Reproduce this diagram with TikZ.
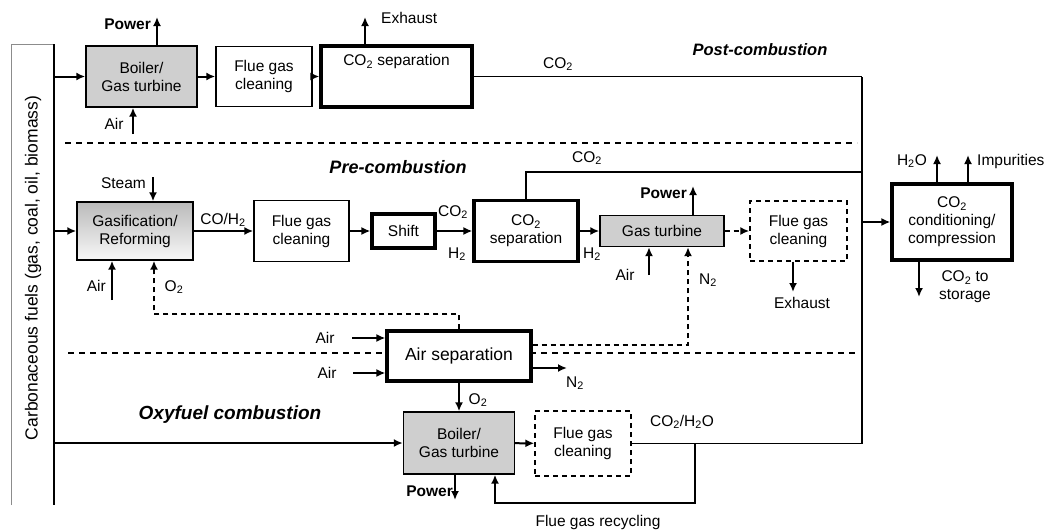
\documentclass[tikz,border=0pt]{standalone}
\usepackage{fontspec}
\setmainfont{Liberation Sans}
\usepackage{tikz}
\usetikzlibrary{arrows.meta,positioning}
\newcommand{\COtwo}{CO\textsubscript{2}}
\newcommand{\Htwo}{H\textsubscript{2}}

\begin{document}
\begin{tikzpicture}[x=1pt,y=-1pt]
	\tikzset{txt/.style={font=\fontsize{15.5}{18}\selectfont,inner sep=1pt},
		box/.style={draw,line width=1.4pt,align=center,inner sep=0pt,font=\fontsize{15.5}{18}\selectfont},
		thickbox/.style={box,line width=3.2pt},
		graybox/.style={box,fill=black!19},
		dashbox/.style={box,dash pattern=on 5pt off 4pt},
		flow/.style={-{Latex[length=9pt,width=8pt]},line width=2pt},
		dashflow/.style={flow,dash pattern=on 5pt off 4pt},
		pipe/.style={line width=1.4pt},
		sepline/.style={line width=1.1pt,dash pattern=on 6pt off 5pt},
		head/.style={font=\fontsize{18}{21}\selectfont\bfseries\itshape}};
	\useasboundingbox (0,0) rectangle (1046,530);

	% fuel rail
	\draw[black!45,line width=0.9pt] (11,505) -- (11,44) -- (54,44);
	\draw[line width=1.4pt] (54,44) -- (54,505);
	\coordinate (rail) at (54,44);
	\node[txt,rotate=90,font=\fontsize{17.5}{20}\selectfont] (fuels) at (33,268) {Carbonaceous fuels (gas, coal, oil, biomass)};

	% post-combustion
	\node[graybox,minimum width=111pt,minimum height=61pt] (boilerA) at (141.5,76.5) {Boiler/\\Gas turbine};
	\node[box,minimum width=96pt,minimum height=60pt] (flueA) at (264,76.5) {Flue gas\\cleaning};
	\node[thickbox,minimum width=151pt,minimum height=61pt] (sepA) at (396.5,76.5) {};
	\node[txt,below=9pt of sepA.north] (sepAtxt) {\COtwo{} separation};
	\draw[flow] (boilerA.west -| rail) -- (boilerA.west);
	\draw[flow] (boilerA) -- (flueA);
	\draw[flow] (flueA) -- (sepA);
	\coordinate (powA) at (157,17);
	\draw[flow] (powA |- boilerA.north) -- (powA);
	\node[txt,font=\fontsize{15.5}{18}\selectfont\bfseries,anchor=east] (powAtxt) at (152,24) {Power};
	\coordinate (airA) at (133,134);
	\draw[flow] (airA) -- (airA |- boilerA.south);
	\node[txt] (airAtxt) at (114,124) {Air};
	\coordinate (exA) at (365,17);
	\draw[flow] (exA |- sepA.north) -- (exA);
	\node[txt,anchor=west] (exAtxt) at (380,18) {Exhaust};
	\coordinate (trunk) at (862,76.5);
	\draw[pipe] (sepA.east) -- (trunk);
	\node[txt] (co2A) at (558,64) {\COtwo};
	\node[head,font=\fontsize{16.5}{19}\selectfont\bfseries\itshape] (post) at (760,50) {Post-combustion};

	\draw[sepline] (65,143) -- (857,143);

	% pre-combustion
	\node[head] (pre) at (398,167) {Pre-combustion};
	\node[box,top color=black!27,bottom color=black!3,minimum width=116pt,minimum height=58pt] (gasif) at (135,231) {Gasification/\\Reforming};
	\node[box,minimum width=95pt,minimum height=61pt] (flueB) at (301.5,231) {Flue gas\\cleaning};
	\node[thickbox,minimum width=63pt,minimum height=34pt] (shift) at (403.5,231) {Shift};
	\node[thickbox,minimum width=104pt,minimum height=61pt] (sepB) at (526,231) {\COtwo\\separation};
	\node[graybox,minimum width=124pt,minimum height=31pt] (gtB) at (662,231) {Gas turbine};
	\node[dashbox,minimum width=97pt,minimum height=60pt] (flueC) at (798.5,231) {Flue gas\\cleaning};
	\node[thickbox,minimum width=120pt,minimum height=76pt] (cond) at (952,222) {\COtwo\\conditioning/\\compression};

	\draw[flow] (gasif.west -| rail) -- (gasif.west);
	\coordinate (steam) at (153,177);
	\draw[flow] (steam) -- (steam |- gasif.north);
	\node[txt,anchor=east] (steamtxt) at (147,183) {Steam};
	\coordinate (airB) at (112,300);
	\draw[flow] (airB) -- (airB |- gasif.south);
	\node[txt,anchor=east] (airBtxt) at (107,286) {Air};
	\node[txt] (oxBtxt) at (174,287) {O\textsubscript{2}};
	\draw[flow] (gasif) -- (flueB);
	\node[txt] (cohtxt) at (223,220) {CO/\Htwo};
	\draw[flow] (flueB) -- (shift);
	\draw[flow] (shift) -- (sepB);
	\node[txt] (co2B) at (453,212) {\COtwo};
	\node[txt] (h2B) at (457,254) {\Htwo};
	\coordinate (co2top) at (526,172);
	\draw[pipe] (sepB.north) -- (co2top) -- (co2top -| trunk);
	\node[txt] (co2Btxt) at (587,158) {\COtwo};
	\draw[flow] (sepB) -- (gtB);
	\node[txt] (h2C) at (592,254) {\Htwo};
	\coordinate (powB) at (693,186);
	\draw[flow] (powB |- gtB.north) -- (powB);
	\node[txt,font=\fontsize{15.5}{18}\selectfont\bfseries,anchor=east] (powBtxt) at (688,193) {Power};
	\coordinate (airC) at (649,275);
	\draw[flow] (airC) -- (airC |- gtB.south);
	\node[txt] (airCtxt) at (625,275) {Air};
	\draw[dashflow] (gtB) -- (flueC);
	\coordinate (exC) at (793,292);
	\draw[flow] (exC |- flueC.south) -- (exC);
	\node[txt] (exCtxt) at (802,303) {Exhaust};
	\draw[flow] (cond.west -| trunk) -- (cond.west);
	\coordinate (h2o) at (937,155);
	\draw[flow] (h2o |- cond.north) -- (h2o);
	\node[txt,anchor=east] (h2otxt) at (928,161) {H\textsubscript{2}O};
	\coordinate (imp) at (968,155);
	\draw[flow] (imp |- cond.north) -- (imp);
	\node[txt,anchor=west] (imptxt) at (976,161) {Impurities};
	\coordinate (store) at (919,297);
	\draw[flow] (store |- cond.south) -- (store);
	\node[txt,align=center] (storetxt) at (965,287) {\COtwo{} to\\storage};

	\draw[sepline] (68,353) -- (855,353);

	% air separation
	\node[thickbox,fill=white,minimum width=144pt,minimum height=50pt,font=\fontsize{17.5}{20}\selectfont] (airsep) at (459,356) {Air separation};
	\coordinate (oxB) at (154,314);
	\draw[dashflow] (airsep.north) |- (oxB) -- (oxB |- gasif.south);
	\coordinate (nB) at (688,345);
	\draw[dashflow] (nB -| airsep.east) -- (nB) -- (nB |- gtB.south);
	\node[txt] (nBtxt) at (708,280) {N\textsubscript{2}};
	\coordinate (airD) at (352,338);
	\draw[flow] (airD) -- (airD -| airsep.west);
	\node[txt] (airDtxt) at (325,338) {Air};
	\coordinate (airE) at (353,373);
	\draw[flow] (airE) -- (airE -| airsep.west);
	\node[txt] (airEtxt) at (327,373) {Air};
	\coordinate (nC) at (567,368);
	\draw[flow] (nC -| airsep.east) -- (nC);
	\node[txt] (nCtxt) at (575,383) {N\textsubscript{2}};

	% oxyfuel
	\node[head,font=\fontsize{19}{22}\selectfont\bfseries\itshape] (oxy) at (230,415) {Oxyfuel combustion};
	\node[graybox,minimum width=111pt,minimum height=62pt] (boilerC) at (459,443) {Boiler/\\Gas turbine};
	\node[dashbox,minimum width=96pt,minimum height=65pt] (flueD) at (583,443.5) {Flue gas\\cleaning};
	\draw[flow] (airsep.south) -- (boilerC.north);
	\node[txt] (oxCtxt) at (478,400) {O\textsubscript{2}};
	\draw[flow] (boilerC.west -| rail) -- (boilerC.west);
	\draw[flow] (boilerC) -- (flueD);
	\draw[pipe] (flueD.east) -- (flueD.east -| trunk) -- (trunk);
	\node[txt] (mixtxt) at (682,422) {\COtwo/H\textsubscript{2}O};
	\coordinate (recyc) at (695,503);
	\draw[flow] (flueD.east -| recyc) -- (recyc) -| ([xshift=36pt]boilerC.south);
	\node[txt] (recyctxt) at (598,522) {Flue gas recycling};
	\coordinate (powC) at (455,500);
	\draw[flow] (powC |- boilerC.south) -- (powC);
	\node[txt,font=\fontsize{15.5}{18}\selectfont\bfseries,anchor=east] (powCtxt) at (454,491) {Power};
\end{tikzpicture}
\end{document}
